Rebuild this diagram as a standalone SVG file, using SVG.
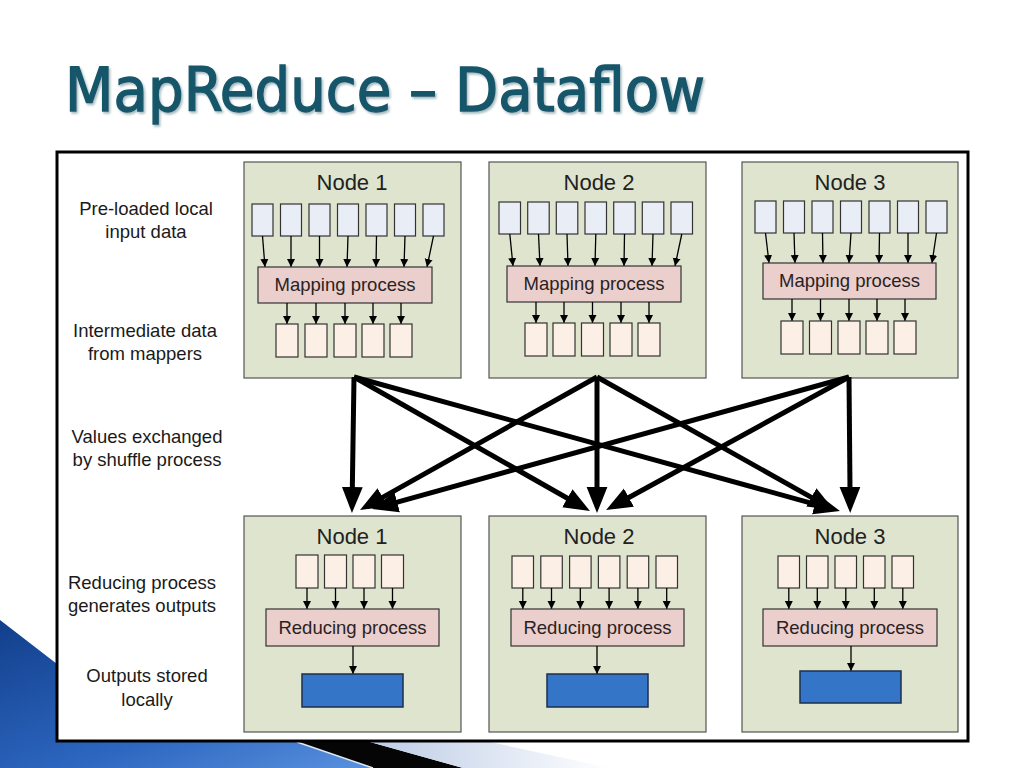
<svg xmlns="http://www.w3.org/2000/svg" width="1024" height="768" viewBox="0 0 1024 768">
<defs>
  <linearGradient id="blueg" x1="0" y1="0" x2="1" y2="1">
    <stop offset="0" stop-color="#123f8c"/>
    <stop offset="0.6" stop-color="#2d67c0"/>
    <stop offset="1" stop-color="#5a92de"/>
  </linearGradient>
  <linearGradient id="lightg" x1="0" y1="0" x2="1" y2="0">
    <stop offset="0" stop-color="#bccbe6"/>
    <stop offset="1" stop-color="#ffffff"/>
  </linearGradient>
  <filter id="tshadow" x="-5%" y="-20%" width="110%" height="150%">
    <feDropShadow dx="1.5" dy="2" stdDeviation="1" flood-color="#6a8c96" flood-opacity="0.6"/>
  </filter>
  <marker id="sa" viewBox="0 0 10 10" refX="10" refY="5" markerUnits="userSpaceOnUse" markerWidth="8" markerHeight="9" orient="auto">
    <path d="M0,0 L10,5 L0,10 z" fill="#000"/>
  </marker>
  <marker id="ba" viewBox="0 0 10 8" refX="1" refY="4" markerUnits="strokeWidth" markerWidth="5.2" markerHeight="4.4" orient="auto">
    <path d="M0,0 L10,4 L0,8 z" fill="#000"/>
  </marker>
  <style>
    .title { font-family: "DejaVu Sans Condensed", "DejaVu Sans", sans-serif; font-size: 60px; fill: #17566a; stroke: #17566a; stroke-width: 1.3; }
    .lbl { font-family: "Liberation Sans", Arial, sans-serif; font-size: 18.5px; fill: #1a1a1a; text-anchor: middle; }
    .ntitle { font-family: "Liberation Sans", Arial, sans-serif; font-size: 22px; fill: #222; text-anchor: middle; }
    .ptext { font-family: "Liberation Sans", Arial, sans-serif; font-size: 18.5px; fill: #2a2222; text-anchor: middle; }
    .node { fill: #dfe4cf; stroke: #555; stroke-width: 1.2; }
    .inp { fill: #e9eef6; stroke: #333; stroke-width: 1.2; }
    .mid { fill: #fcefe5; stroke: #333; stroke-width: 1.2; }
    .proc { fill: #eacfcd; stroke: #333; stroke-width: 1.2; }
    .out { fill: #3475c8; stroke: #1c2f4f; stroke-width: 1.5; }
    .sarr { stroke: #000; stroke-width: 1.3; fill: none; marker-end: url(#sa); }
    .barr { stroke: #000; stroke-width: 5; fill: none; marker-end: url(#ba); }
  </style>
</defs>

<rect x="0" y="0" width="1024" height="768" fill="#ffffff"/>

<!-- background decoration -->
<g id="decoration">
  <polygon points="0,620 57,664 200,718 297,742 373,768 0,768" fill="url(#blueg)"/>
  <polygon points="297,742 370,742 463,768 373,768" fill="#050505"/>
  <polygon points="370,742 490,742 610,768 463,768" fill="url(#lightg)"/>
  <line x1="297" y1="742" x2="373" y2="768" stroke="#dfe8f6" stroke-width="1.5"/>
</g>

<text class="title" x="65" y="111" textLength="640" lengthAdjust="spacingAndGlyphs" filter="url(#tshadow)">MapReduce – Dataflow</text>

<rect id="frame" x="57" y="152" width="911" height="589" fill="#ffffff" stroke="#000" stroke-width="3"/>

<!-- row labels -->
<g id="labels">
  <text class="lbl" x="146" y="215">Pre-loaded local</text>
  <text class="lbl" x="146" y="238">input data</text>
  <text class="lbl" x="145" y="337">Intermediate data</text>
  <text class="lbl" x="145" y="360">from mappers</text>
  <text class="lbl" x="147" y="443">Values exchanged</text>
  <text class="lbl" x="147" y="466">by shuffle process</text>
  <text class="lbl" x="142" y="589">Reducing process</text>
  <text class="lbl" x="142" y="612">generates outputs</text>
  <text class="lbl" x="147" y="682">Outputs stored</text>
  <text class="lbl" x="147" y="706">locally</text>
</g>

<!-- Map node 1 -->
<g id="map-node-1">
  <rect class="node" x="244" y="162" width="217" height="216"/>
  <text class="ntitle" x="352" y="190">Node 1</text>
  <rect class="inp" x="252" y="204" width="21" height="32"/>
  <rect class="inp" x="280.5" y="204" width="21" height="32"/>
  <rect class="inp" x="309" y="204" width="21" height="32"/>
  <rect class="inp" x="337.5" y="204" width="21" height="32"/>
  <rect class="inp" x="366" y="204" width="21" height="32"/>
  <rect class="inp" x="394.5" y="204" width="21" height="32"/>
  <rect class="inp" x="423" y="204" width="21" height="32"/>
  <line class="sarr" x1="262.5" y1="236" x2="265" y2="267"/>
  <line class="sarr" x1="291" y1="236" x2="291" y2="267"/>
  <line class="sarr" x1="319.5" y1="236" x2="319.5" y2="267"/>
  <line class="sarr" x1="348" y1="236" x2="347" y2="267"/>
  <line class="sarr" x1="376.5" y1="236" x2="376" y2="267"/>
  <line class="sarr" x1="405" y1="236" x2="404" y2="267"/>
  <line class="sarr" x1="433.5" y1="236" x2="427" y2="267"/>
  <rect class="proc" x="258" y="267" width="174" height="36"/>
  <text class="ptext" x="345" y="291">Mapping process</text>
  <line class="sarr" x1="287" y1="303" x2="287" y2="324"/>
  <line class="sarr" x1="316" y1="303" x2="316" y2="324"/>
  <line class="sarr" x1="345" y1="303" x2="345" y2="324"/>
  <line class="sarr" x1="373" y1="303" x2="373" y2="324"/>
  <line class="sarr" x1="401" y1="303" x2="401" y2="324"/>
  <rect class="mid" x="276" y="324" width="22" height="33"/>
  <rect class="mid" x="305" y="324" width="22" height="33"/>
  <rect class="mid" x="334" y="324" width="22" height="33"/>
  <rect class="mid" x="362" y="324" width="22" height="33"/>
  <rect class="mid" x="390" y="324" width="22" height="33"/>
</g>

<!-- Map node 2 -->
<g id="map-node-2">
  <rect class="node" x="489" y="162" width="217" height="216"/>
  <text class="ntitle" x="599" y="190">Node 2</text>
  <rect class="inp" x="499" y="202" width="21.5" height="32"/>
  <rect class="inp" x="527.7" y="202" width="21.5" height="32"/>
  <rect class="inp" x="556.3" y="202" width="21.5" height="32"/>
  <rect class="inp" x="585" y="202" width="21.5" height="32"/>
  <rect class="inp" x="613.7" y="202" width="21.5" height="32"/>
  <rect class="inp" x="642.3" y="202" width="21.5" height="32"/>
  <rect class="inp" x="671" y="202" width="21.5" height="32"/>
  <line class="sarr" x1="509.8" y1="234" x2="513" y2="266"/>
  <line class="sarr" x1="538.5" y1="234" x2="540" y2="266"/>
  <line class="sarr" x1="567" y1="234" x2="568" y2="266"/>
  <line class="sarr" x1="595.8" y1="234" x2="595" y2="266"/>
  <line class="sarr" x1="624.5" y1="234" x2="624" y2="266"/>
  <line class="sarr" x1="653" y1="234" x2="652" y2="266"/>
  <line class="sarr" x1="681.8" y1="234" x2="675" y2="266"/>
  <rect class="proc" x="507" y="266" width="174" height="36"/>
  <text class="ptext" x="594" y="290">Mapping process</text>
  <line class="sarr" x1="536" y1="302" x2="536" y2="323"/>
  <line class="sarr" x1="564" y1="302" x2="564" y2="323"/>
  <line class="sarr" x1="592.5" y1="302" x2="592.5" y2="323"/>
  <line class="sarr" x1="621" y1="302" x2="621" y2="323"/>
  <line class="sarr" x1="649" y1="302" x2="649" y2="323"/>
  <rect class="mid" x="525" y="323" width="22" height="33"/>
  <rect class="mid" x="553" y="323" width="22" height="33"/>
  <rect class="mid" x="581.5" y="323" width="22" height="33"/>
  <rect class="mid" x="610" y="323" width="22" height="33"/>
  <rect class="mid" x="638" y="323" width="22" height="33"/>
</g>

<!-- Map node 3 -->
<g id="map-node-3">
  <rect class="node" x="742" y="162" width="216" height="216"/>
  <text class="ntitle" x="850" y="190">Node 3</text>
  <rect class="inp" x="755" y="201" width="21" height="32"/>
  <rect class="inp" x="783.5" y="201" width="21" height="32"/>
  <rect class="inp" x="812" y="201" width="21" height="32"/>
  <rect class="inp" x="840.5" y="201" width="21" height="32"/>
  <rect class="inp" x="869" y="201" width="21" height="32"/>
  <rect class="inp" x="897.5" y="201" width="21" height="32"/>
  <rect class="inp" x="926" y="201" width="21" height="32"/>
  <line class="sarr" x1="765.5" y1="233" x2="769" y2="263"/>
  <line class="sarr" x1="794" y1="233" x2="795" y2="263"/>
  <line class="sarr" x1="822.5" y1="233" x2="823" y2="263"/>
  <line class="sarr" x1="851" y1="233" x2="849" y2="263"/>
  <line class="sarr" x1="879.5" y1="233" x2="879" y2="263"/>
  <line class="sarr" x1="908" y1="233" x2="908" y2="263"/>
  <line class="sarr" x1="936.5" y1="233" x2="932" y2="263"/>
  <rect class="proc" x="763" y="263" width="173" height="36"/>
  <text class="ptext" x="849.5" y="287">Mapping process</text>
  <line class="sarr" x1="792" y1="299" x2="792" y2="321"/>
  <line class="sarr" x1="820.5" y1="299" x2="820.5" y2="321"/>
  <line class="sarr" x1="849" y1="299" x2="849" y2="321"/>
  <line class="sarr" x1="877" y1="299" x2="877" y2="321"/>
  <line class="sarr" x1="905" y1="299" x2="905" y2="321"/>
  <rect class="mid" x="781" y="321" width="22" height="33"/>
  <rect class="mid" x="809.5" y="321" width="22" height="33"/>
  <rect class="mid" x="838" y="321" width="22" height="33"/>
  <rect class="mid" x="866" y="321" width="22" height="33"/>
  <rect class="mid" x="894" y="321" width="22" height="33"/>
</g>

<!-- Reduce node 1 -->
<g id="reduce-node-1">
  <rect class="node" x="244" y="516" width="217" height="216"/>
  <text class="ntitle" x="352" y="544">Node 1</text>
  <rect class="mid" x="296" y="555" width="22" height="33"/>
  <rect class="mid" x="324.5" y="555" width="22" height="33"/>
  <rect class="mid" x="353" y="555" width="22" height="33"/>
  <rect class="mid" x="381.5" y="555" width="22" height="33"/>
  <line class="sarr" x1="307" y1="588" x2="307" y2="609"/>
  <line class="sarr" x1="335.5" y1="588" x2="335.5" y2="609"/>
  <line class="sarr" x1="364" y1="588" x2="364" y2="609"/>
  <line class="sarr" x1="392.5" y1="588" x2="392.5" y2="609"/>
  <rect class="proc" x="266" y="609" width="173" height="37"/>
  <text class="ptext" x="352.5" y="634">Reducing process</text>
  <line class="sarr" x1="353" y1="646" x2="353" y2="674"/>
  <rect class="out" x="302" y="674" width="101" height="33"/>
</g>

<!-- Reduce node 2 -->
<g id="reduce-node-2">
  <rect class="node" x="489" y="516" width="217" height="216"/>
  <text class="ntitle" x="599" y="544">Node 2</text>
  <rect class="mid" x="512" y="556" width="21.5" height="32"/>
  <rect class="mid" x="540.8" y="556" width="21.5" height="32"/>
  <rect class="mid" x="569.6" y="556" width="21.5" height="32"/>
  <rect class="mid" x="598.4" y="556" width="21.5" height="32"/>
  <rect class="mid" x="627.2" y="556" width="21.5" height="32"/>
  <rect class="mid" x="656" y="556" width="21.5" height="32"/>
  <line class="sarr" x1="522.8" y1="588" x2="522.8" y2="609"/>
  <line class="sarr" x1="551.5" y1="588" x2="551.5" y2="609"/>
  <line class="sarr" x1="580.3" y1="588" x2="580.3" y2="609"/>
  <line class="sarr" x1="609.1" y1="588" x2="609.1" y2="609"/>
  <line class="sarr" x1="637.9" y1="588" x2="637.9" y2="609"/>
  <line class="sarr" x1="666.7" y1="588" x2="666.7" y2="609"/>
  <rect class="proc" x="511" y="609" width="173" height="37"/>
  <text class="ptext" x="597.5" y="634">Reducing process</text>
  <line class="sarr" x1="597" y1="646" x2="597" y2="674"/>
  <rect class="out" x="547" y="674" width="101" height="33"/>
</g>

<!-- Reduce node 3 -->
<g id="reduce-node-3">
  <rect class="node" x="742" y="516" width="216" height="216"/>
  <text class="ntitle" x="850" y="544">Node 3</text>
  <rect class="mid" x="778" y="556" width="21.5" height="32"/>
  <rect class="mid" x="806.5" y="556" width="21.5" height="32"/>
  <rect class="mid" x="835" y="556" width="21.5" height="32"/>
  <rect class="mid" x="863.5" y="556" width="21.5" height="32"/>
  <rect class="mid" x="892" y="556" width="21.5" height="32"/>
  <line class="sarr" x1="788.8" y1="588" x2="788.8" y2="609"/>
  <line class="sarr" x1="817.3" y1="588" x2="817.3" y2="609"/>
  <line class="sarr" x1="845.8" y1="588" x2="845.8" y2="609"/>
  <line class="sarr" x1="874.3" y1="588" x2="874.3" y2="609"/>
  <line class="sarr" x1="902.8" y1="588" x2="902.8" y2="609"/>
  <rect class="proc" x="763" y="609" width="174" height="37"/>
  <text class="ptext" x="850" y="634">Reducing process</text>
  <line class="sarr" x1="851" y1="646" x2="851" y2="671"/>
  <rect class="out" x="800" y="671" width="101" height="32"/>
</g>

<!-- shuffle connectors -->
<g id="shuffle-connectors">
  <line class="barr" x1="354" y1="377" x2="352.3" y2="489.6"/>
  <line class="barr" x1="354" y1="377" x2="569.6" y2="499.5"/>
  <line class="barr" x1="354" y1="377" x2="817.4" y2="504.8"/>
  <line class="barr" x1="597" y1="377" x2="380.4" y2="498.6"/>
  <line class="barr" x1="597" y1="377" x2="597" y2="489.6"/>
  <line class="barr" x1="597" y1="377" x2="813.6" y2="498.6"/>
  <line class="barr" x1="849" y1="377" x2="394.6" y2="502.8"/>
  <line class="barr" x1="849" y1="377" x2="626.6" y2="498.8"/>
  <line class="barr" x1="849" y1="377" x2="850" y2="489.6"/>
</g>
</svg>
